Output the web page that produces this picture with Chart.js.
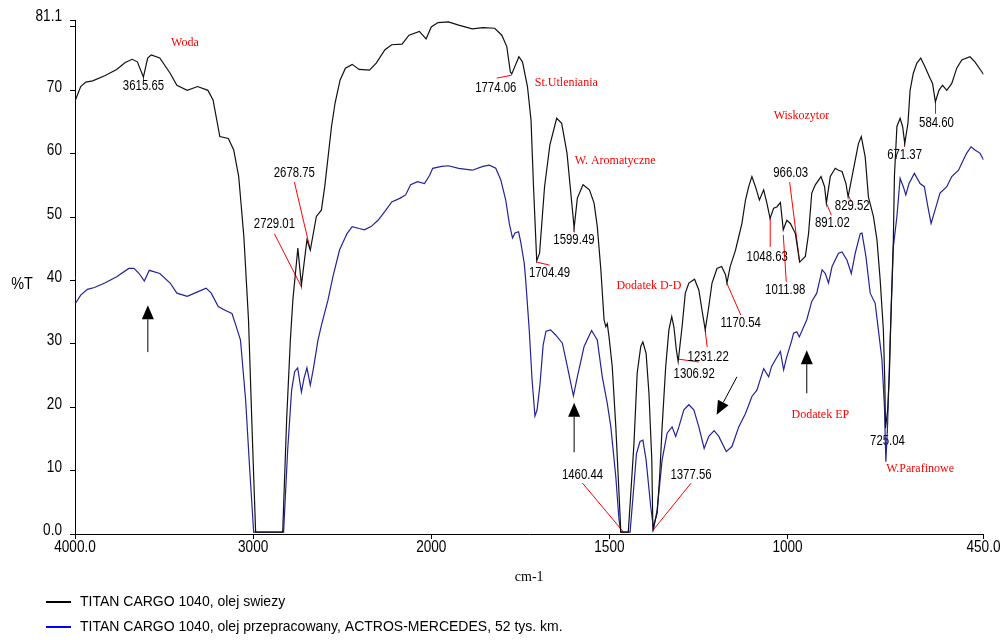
<!DOCTYPE html>
<html>
<head>
<meta charset="utf-8">
<script src="https://cdn.jsdelivr.net/npm/chart.js@4.4.1/dist/chart.umd.min.js"></script>
<style>
  html, body { margin: 0; padding: 0; background: #ffffff; }
  #wrap { position: relative; width: 1005px; height: 640px; }
</style>
</head>
<body>
<div id="wrap"><canvas id="spectrum" width="1005" height="640"></canvas></div>
<script>
// IR spectra: wavenumber (cm-1) and transmittance (%T)
const freshWavenumber = [3997,3968,3939,3901,3833,3766,3718,3679,3650,3616,3592,3572,3524,3466,3428,3370,3312,3254,3225,3187,3139,3109,3081,3052,3026,3002,2986,2907,2834,2812,2791,2777,2749,2729,2698,2679,2645,2617,2598,2560,2540,2512,2482,2444,2405,2347,2309,2260,2222,2164,2125,2067,2029,2000,1981,1952,1923,1885,1855,1822,1802,1788,1778,1774,1754,1744,1730,1720,1713,1704,1696,1682,1667,1648,1634,1619,1599,1590,1574,1556,1543,1534,1524,1515,1510,1506,1501,1492,1482,1473,1468,1447,1440,1431,1422,1412,1406,1397,1389,1381,1378,1366,1359,1352,1342,1333,1325,1319,1312,1307,1296,1287,1277,1261,1249,1240,1231,1221,1212,1198,1185,1174,1170,1161,1146,1137,1128,1118,1109,1100,1090,1079,1067,1058,1049,1039,1030,1020,1012,1002,992,978,966,950,941,932,922,906,896,891,880,866,857,847,836,830,810,801,793,782,773,759,749,740,731,727,725,719,714,709,703,700,693,684,677,671,662,656,647,637,626,614,600,593,585,575,565,553,539,525,511,488,474,452,450];
const freshTransmittance = [68.5,70.6,71.3,71.5,72.3,73.3,74.4,74.9,74.5,72.1,75.1,75.6,75.1,72.7,70.8,70.0,70.6,70.0,68.5,62.7,62.4,60.6,56.4,46.9,33.8,13.3,0.3,0.3,0.3,18.0,30.6,36.9,45.1,39.3,46.4,44.8,50.1,51.1,54.8,64.3,68.0,71.6,73.5,74.1,73.3,73.2,74.3,76.4,77.2,77.3,78.7,79.3,78.1,80.0,80.7,80.8,80.3,79.7,79.9,79.8,78.7,76.9,72.9,72.6,75.3,74.5,70.6,65.3,54.8,43.1,44.3,54.8,61.4,65.6,64.8,60.1,48.3,53.0,55.1,54.3,52.2,48.5,41.7,33.8,32.7,33.2,31.1,26.4,16.9,6.4,0.3,0.3,6.4,14.3,25.4,29.6,30.3,28.5,22.2,11.7,0.8,3.3,9.0,16.9,26.4,32.2,34.3,32.7,29.0,27.2,32.7,38.0,39.6,40.2,38.5,35.3,32.2,35.9,39.6,41.9,42.2,40.9,39.6,42.2,44.8,46.9,49.0,52.7,54.8,56.4,54.8,52.7,54.3,52.2,49.8,51.4,51.6,52.3,48.0,49.5,49.0,47.4,42.9,43.8,47.4,53.8,55.1,56.4,54.8,52.2,56.4,57.7,57.4,57.2,55.3,53.2,59.0,61.6,62.7,59.5,53.2,50.1,46.4,40.1,32.2,24.0,16.7,19.6,25.4,35.9,46.4,56.4,64.3,65.6,64.3,61.6,64.8,70.0,72.7,74.3,75.1,73.7,71.9,71.1,68.2,70.0,70.8,70.0,71.1,73.5,74.8,75.3,74.5,72.7,72.5];

const usedWavenumber = [3997,3968,3930,3891,3833,3766,3698,3669,3640,3611,3583,3524,3466,3428,3370,3312,3264,3235,3196,3158,3119,3100,3071,3042,3019,2997,2907,2829,2806,2784,2767,2750,2729,2714,2698,2679,2663,2636,2616,2580,2552,2515,2473,2444,2405,2376,2338,2299,2260,2222,2174,2144,2116,2077,2038,2009,1996,1971,1952,1923,1885,1855,1837,1819,1805,1791,1781,1772,1765,1755,1749,1739,1735,1725,1717,1709,1703,1695,1686,1678,1665,1651,1632,1618,1601,1590,1571,1550,1534,1520,1506,1496,1482,1473,1468,1442,1433,1424,1414,1406,1397,1384,1376,1366,1352,1338,1324,1314,1305,1291,1277,1263,1249,1234,1221,1206,1193,1172,1156,1137,1118,1100,1086,1067,1053,1045,1034,1020,1011,1002,988,983,974,967,946,932,918,903,894,885,875,857,847,833,821,810,796,791,780,768,754,745,735,728,724,719,712,703,693,684,675,668,659,644,628,616,606,597,586,572,553,539,520,511,497,485,474,460,452,450];
const usedTransmittance = [36.4,37.7,38.6,38.9,39.6,40.6,41.9,41.9,41.1,39.9,41.6,41.1,39.6,38.0,37.5,38.2,38.8,38.0,35.9,35.3,34.8,33.2,30.6,21.1,10.1,0.3,0.3,0.3,13.3,22.7,25.6,26.2,22.4,24.6,26.2,23.5,25.9,30.6,33.0,36.9,40.6,44.8,47.4,48.5,48.2,48.0,48.5,49.5,50.9,52.4,53.0,53.5,55.1,55.6,55.3,56.6,57.7,58.0,58.1,57.7,57.4,58.0,58.2,57.7,55.9,52.7,49.0,46.7,47.5,47.7,46.1,42.7,40.1,32.2,24.3,18.6,19.6,23.5,29.8,32.0,32.2,31.4,30.1,26.4,21.8,24.8,29.6,32.1,30.6,24.8,20.6,16.9,9.0,2.2,0.3,0.3,6.4,12.7,14.6,14.8,11.7,4.3,0.8,3.8,11.7,15.9,16.9,15.4,16.9,19.6,20.4,19.6,16.9,13.5,15.4,16.3,15.4,13.0,13.8,16.9,19.0,21.7,22.7,26.1,24.8,26.4,27.5,28.8,25.9,28.0,30.6,31.7,31.9,31.1,33.8,36.7,38.0,41.7,41.1,39.6,42.2,44.3,44.5,43.2,41.1,44.3,47.4,47.5,43.8,38.0,36.4,32.2,27.5,20.1,11.4,17.5,30.6,45.3,50.1,56.1,54.8,53.5,55.3,56.9,55.3,54.8,51.6,49.0,51.1,53.8,54.8,56.4,57.4,58.5,60.1,61.1,60.6,60.1,59.3,59.0];

const seriesNames = [
  'TITAN CARGO 1040, olej swiezy',
  'TITAN CARGO 1040, olej przepracowany, ACTROS-MERCEDES, 52 tys. km.'
];

// axis ticks
const xTickValues = [4000, 3000, 2000, 1500, 1000, 450];
const xTickLabels = ['4000.0', '3000', '2000', '1500', '1000', '450.0'];
const yTickValues = [0, 10, 20, 30, 40, 50, 60, 70, 80, 81.1];
const yTickLabels = ['0.0', '10', '20', '30', '40', '50', '60', '70', '', '81.1'];

// labelled bands (cm-1) and %T where each leader line starts
const peakWavenumbers = [3615.65, 2729.01, 2678.75, 1774.06, 1704.49, 1599.49, 1460.44, 1377.56, 1306.92, 1231.22, 1170.54, 1048.63, 1011.98, 966.03, 891.02, 829.52, 725.04, 671.37, 584.60];
const peakTransmittance = [72.1, 39.0, 44.8, 72.4, 42.9, 48.4, 0.3, 0.6, 27.6, 32.2, 39.6, 49.9, 47.2, 42.9, 52.2, 53.5, 16.9, 62.5, 68.2];

// band group names and where they sit (cm-1, %T)
const bandNames = ['Woda', 'St.Utleniania', 'W. Aromatyczne', 'Dodatek D-D', 'Wiskozytor', 'Dodatek EP', 'W.Parafinowe'];
const bandNameWavenumbers = [3383, 1621, 1484, 1389, 961, 908, 628];
const bandNameTransmittance = [77.5, 71.2, 58.9, 39.1, 66.0, 18.8, 10.3];

// arrows, tail -> tip (cm-1, %T)
const arrowTailWavenumbers = [3591, 1599, 1142, 946];
const arrowTailTransmittance = [28.7, 12.9, 24.8, 22.2];
const arrowTipWavenumbers = [3591, 1599, 1199, 946];
const arrowTipTransmittance = [36.1, 20.7, 18.8, 29.0];

// pixel placement of each band label: [start dx, leader dx, leader dy, text dx, text dy]
const peakLabelLayout = [
  [0, 0, 3, 0, 9],
  [0, -27, -53, -27, -63],
  [0, -16, -68, -16, -77],
  [0, -15, 3, -16, 13],
  [0, 13, 3, 13, 11],
  [0, 0, 5, 0, 13],
  [0, -41, -49, -41, -57],
  [0, 38, -47, 38, -55],
  [0, 21, 3, 16, 15],
  [0, 2, 17, 3, 27],
  [0, 14, 32, 14, 40],
  [0, 0, 29, -3, 39],
  [0, 3, 47, 2, 55],
  [0, -10, -80, -9, -89],
  [0, 5, 12, 6, 20],
  [0, 3, 7, 4, 11],
  [2, 0, 6, 0, 14],
  [0, 0, 9, 0, 17],
  [0, 0, 12, 1, 21]
];

// The x axis is compressed 2:1 above 2000 cm-1 (usual IR layout).
const toAxis = w => (w >= 2000 ? 4000 - w : 2000 + 2 * (2000 - w));
const toPoints = (ws, ts) => ws.map((w, i) => ({ x: toAxis(w), y: ts[i] }));

// condensed sans text, drawn with a horizontal squeeze
function condensedText(ctx, text, x, y, size, squeeze, align) {
  ctx.save();
  ctx.font = size + 'px "Liberation Sans"';
  ctx.textAlign = align;
  ctx.textBaseline = 'middle';
  ctx.translate(x, y);
  ctx.scale(squeeze, 1);
  ctx.fillText(text, 0, 0);
  ctx.restore();
}

const decorations = {
  id: 'decorations',
  beforeDatasetsDraw(chart) {
    const { ctx, scales: { x, y } } = chart;
    const px = w => x.getPixelForValue(toAxis(w));
    const py = t => y.getPixelForValue(t);
    ctx.save();
    ctx.strokeStyle = '#ff0000';
    ctx.lineWidth = 1;
    peakWavenumbers.forEach((w, i) => {
      const [sx, lx, ly] = peakLabelLayout[i];
      const x0 = px(w) + sx, y0 = py(peakTransmittance[i]);
      ctx.beginPath();
      ctx.moveTo(x0, y0);
      ctx.lineTo(x0 + lx, y0 + ly);
      ctx.stroke();
    });
    ctx.fillStyle = '#000000';
    peakWavenumbers.forEach((w, i) => {
      const [sx, , , tx, ty] = peakLabelLayout[i];
      const x0 = px(w) + sx, y0 = py(peakTransmittance[i]);
      condensedText(ctx, w.toFixed(2), x0 + tx, y0 + ty, 15, 0.76, 'center');
    });
    ctx.fillStyle = '#ff0000';
    ctx.font = '12px "Liberation Serif"';
    ctx.textAlign = 'center';
    ctx.textBaseline = 'middle';
    bandNames.forEach((n, i) => {
      ctx.fillText(n, px(bandNameWavenumbers[i]), py(bandNameTransmittance[i]));
    });
    ctx.restore();
  },
  afterDraw(chart) {
    const { ctx, scales: { x, y } } = chart;
    const px = w => x.getPixelForValue(toAxis(w));
    const py = t => y.getPixelForValue(t);
    ctx.save();
    ctx.fillStyle = '#000000';
    // tick labels
    xTickValues.forEach((w, i) => condensedText(ctx, xTickLabels[i], px(w), 548, 16, 0.85, 'center'));
    yTickValues.forEach((v, i) => condensedText(ctx, yTickLabels[i], 62, py(v) - 3, 16, 0.85, 'right'));
    // arrows
    ctx.strokeStyle = '#000000';
    ctx.lineWidth = 1;
    arrowTailWavenumbers.forEach((w, i) => {
      const x1 = px(w), y1 = py(arrowTailTransmittance[i]);
      const x2 = px(arrowTipWavenumbers[i]), y2 = py(arrowTipTransmittance[i]);
      const a = Math.atan2(y2 - y1, x2 - x1);
      const len = 14, half = 6;
      const bx = x2 - len * Math.cos(a), by = y2 - len * Math.sin(a);
      ctx.beginPath();
      ctx.moveTo(x1, y1);
      ctx.lineTo(bx, by);
      ctx.stroke();
      ctx.beginPath();
      ctx.moveTo(x2, y2);
      ctx.lineTo(bx + half * Math.sin(a), by - half * Math.cos(a));
      ctx.lineTo(bx - half * Math.sin(a), by + half * Math.cos(a));
      ctx.closePath();
      ctx.fill();
    });
    // y axis name
    condensedText(ctx, '%T', 22, 285, 16, 0.9, 'center');
    // legend
    const legendColors = ['#000000', '#0000ff'];
    ctx.font = '14px "Liberation Sans"';
    ctx.textAlign = 'left';
    ctx.textBaseline = 'middle';
    seriesNames.forEach((name, i) => {
      const ly = 602 + i * 25;
      ctx.strokeStyle = legendColors[i];
      ctx.lineWidth = 2;
      ctx.beginPath();
      ctx.moveTo(46, ly);
      ctx.lineTo(71, ly);
      ctx.stroke();
      ctx.fillStyle = '#000000';
      ctx.fillText(name, 80, ly);
    });
    ctx.restore();
  }
};

const axisGrid = { drawOnChartArea: false, drawTicks: true, tickLength: 5, color: '#000000', lineWidth: 1 };
const axisBorder = { display: true, color: '#000000', width: 1 };
const hiddenTickText = 'rgba(0,0,0,0)';

new Chart(document.getElementById('spectrum'), {
  type: 'scatter',
  data: {
    datasets: [
      {
        label: seriesNames[0],
        data: toPoints(freshWavenumber, freshTransmittance),
        showLine: true, borderColor: '#111111', borderWidth: 1.2,
        pointRadius: 0, tension: 0
      },
      {
        label: seriesNames[1],
        data: toPoints(usedWavenumber, usedTransmittance),
        showLine: true, borderColor: '#22229a', borderWidth: 1.2,
        pointRadius: 0, tension: 0
      }
    ]
  },
  options: {
    responsive: false,
    animation: false,
    devicePixelRatio: 1,
    layout: { padding: { top: 20, right: 20, bottom: 54, left: 0 } },
    plugins: { legend: { display: false }, tooltip: { enabled: false } },
    scales: {
      x: {
        type: 'linear',
        min: toAxis(4000),
        max: toAxis(450),
        afterBuildTicks: s => { s.ticks = xTickValues.map(w => ({ value: toAxis(w) })); },
        afterFit: s => { s.height = 52; },
        grid: axisGrid,
        border: axisBorder,
        ticks: {
          autoSkip: false, maxRotation: 0, padding: 4, color: hiddenTickText,
          font: { family: '"Liberation Sans"', size: 14 },
          callback: (v, i) => xTickLabels[i]
        },
        title: {
          display: true, text: 'cm-1', color: '#000000', padding: 0,
          font: { family: '"Liberation Serif"', size: 14 }
        }
      },
      y: {
        type: 'linear',
        min: 0,
        max: 81.1,
        afterBuildTicks: s => { s.ticks = yTickValues.map(v => ({ value: v })); },
        afterFit: s => { s.width = 75; },
        grid: axisGrid,
        border: axisBorder,
        ticks: {
          autoSkip: false, padding: 8, color: hiddenTickText,
          font: { family: '"Liberation Sans"', size: 14 },
          callback: (v, i) => yTickLabels[i]
        }
      }
    }
  },
  plugins: [decorations]
});
</script>
</body>
</html>
